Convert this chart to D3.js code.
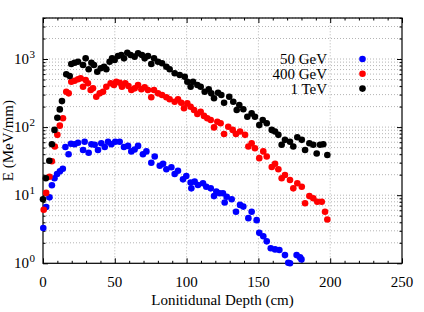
<!DOCTYPE html>
<html>
<head>
<meta charset="utf-8">
<script src="https://cdn.jsdelivr.net/npm/d3@7"></script>
<style>
  body { margin: 0; background: #fff; }
  text { font-family: "Liberation Serif", "Times New Roman", serif; fill: #000; }
</style>
</head>
<body>
<div id="chart"></div>
<script>
// series names and colours, in legend order
const seriesNames = ['50 GeV', '400 GeV', '1 TeV'];
const seriesColors = ['#0000ff', '#ff0000', '#000000'];

// 50 GeV
const depth50 = [0.2, 2.2, 4.5, 6.2, 8, 9.8, 11.8, 13.8, 15.6, 17.8, 19.5, 22, 24.4, 27.9, 29, 31.8, 33.7, 36, 38.3, 40.6,
  43, 45.3, 47.6, 50.3, 53.4, 56.4, 59.2, 61.5, 63.8, 66.2, 69.6, 72, 75.4, 77.8, 81.3, 83.6, 85.9, 89.4, 91.7, 94,
  97.5, 99.8, 102.8, 103.3, 105.6, 107.9, 111.4, 113.7, 116.8, 119.1, 120.7, 123, 125.3, 126.5, 127.9, 131.4, 134.4, 137.2, 139.5, 143,
  145.3, 148.8, 150.6, 153.4, 155.8, 158.6, 161.6, 164.6, 168.5, 170.8, 172, 176.6, 179, 180];
const energy50 = [3.3, 6.7, 9.3, 14, 17.7, 20.5, 22.5, 24.5, 51, 40, 57, 56, 59, 46, 61, 42, 56, 55, 46, 58,
  51, 61, 56, 61, 61, 51, 53, 44, 47, 53, 40, 44, 30, 37, 27, 29, 24, 25.7, 20.5, 22.9,
  17.1, 19.1, 15.3, 12.6, 15.8, 14.1, 15, 13.3, 12.6, 9.7, 11.3, 10.7, 10.7, 7.8, 9.5, 8.7, 5.7, 7.2, 6.8, 4.6,
  5.7, 4.3, 2.8, 2.5, 2.1, 1.66, 1.6, 1.57, 1.32, 1.02, 1.0, 1.32, 1.22, 1.14];

// 400 GeV
const depth400 = [0.5, 2.2, 4.5, 6.2, 8.2, 10, 11.7, 13.9, 16.2, 17.9, 19.7, 22, 24.4, 26.2, 27.9, 29.7, 31.3, 33.2, 34.8, 37.1,
  39.5, 41.8, 44.1, 47.1, 49.4, 51, 53.4, 55, 57.3, 59.5, 61.5, 63.9, 66.2, 68.5, 70.8, 73.1, 75.4, 77.3, 80.1, 82.9,
  85.9, 88.2, 91.7, 94, 96.3, 98.2, 100.5, 102.8, 105.2, 107.5, 109.8, 112.1, 114.4, 116.8, 119.1, 121.4, 123.7, 126.1, 129, 132.1,
  134.4, 137.2, 140.7, 143, 145.3, 147.6, 150.6, 153.4, 155.8, 159.3, 161.6, 163.9, 166.2, 168.5, 172, 174.3, 177.1, 180.2, 182.5, 185.5,
  188.2, 191, 194.1, 196.4, 198];
const energy400 = [6.1, 10.8, 18.7, 31.5, 52, 77, 105, 135, 331, 313, 464, 480, 504, 521, 392, 492, 440, 351, 371, 279,
  313, 331, 392, 440, 415, 464, 449, 392, 440, 400, 351, 371, 415, 359, 384, 351, 274, 351, 313, 296,
  274, 256, 236, 256, 228, 189, 223, 199, 178, 156, 168, 146, 135, 127, 99, 120, 114, 79, 101, 91,
  79, 86, 77, 52, 58, 49, 35, 44, 37, 26, 29, 24, 17.7, 19.8, 16.7, 12.6, 15, 13.3, 7.6, 9.7,
  9, 8, 8, 5.7, 4.4];

// 1 TeV
const depth1000 = [0, 2, 4.4, 6.2, 8, 10, 11.7, 13.2, 16.2, 18.6, 19.7, 22, 24.4, 27.9, 29.7, 31.8, 33.7, 35.5, 37.8, 40.2,
  42.5, 44.1, 46.4, 48.1, 49.9, 52.2, 54.5, 56.4, 58.7, 61, 63.8, 66.2, 68.9, 70.8, 73.1, 75.4, 77.3, 80.1, 82.9, 85.9,
  88.2, 91.7, 95.2, 98.7, 100.5, 102.8, 104.5, 107.5, 109.8, 112.6, 115.4, 117.2, 119.1, 121.9, 124.2, 126.1, 129.7, 132.5, 134.9, 136.7,
  139.5, 142.3, 145.3, 147.6, 150.6, 153, 155.8, 159.3, 161.6, 163.9, 166.2, 168.5, 172, 174.3, 177.1, 180.2, 182.5, 185.5, 188.2, 190.6,
  192.9, 195.2, 198];
const energy1000 = [8.7, 17.7, 32, 56, 91, 137, 182, 241, 596, 563, 845, 883, 911, 816, 1023, 706, 883, 816, 651, 730,
  771, 706, 912, 1023, 966, 1107, 1146, 1023, 1238, 1146, 1082, 1213, 1146, 1023, 1107, 845, 1023, 912, 865, 771,
  706, 617, 582, 550, 464, 392, 464, 415, 392, 331, 359, 313, 265, 320, 296, 228, 279, 236, 178, 211,
  183, 142, 159, 142, 107, 127, 114, 91, 86, 77, 55, 65, 61, 52, 71, 65, 46, 58, 55, 41,
  55, 56, 39];

// axis ticks
const xMajorTicks = [0, 50, 100, 150, 200, 250];
const yMajorTicks = [1, 10, 100, 1000];
const yExponents = ['0', '1', '2', '3'];

function chart(divId) {
  const width = 424;
  const height = 312;
  const margin = {top: 18, right: 22, bottom: 48.7, left: 43};
  const pointRadius = 3.3;
  const fontSize = 15;

  const svg = d3.select(divId).append('svg')
    .attr('width', width)
    .attr('height', height);

  const xScale = d3.scaleLinear().domain([0, 250]).range([margin.left, width - margin.right]);
  const yScale = d3.scaleLog().domain([1, 4000]).range([height - margin.bottom, margin.top]);

  const [x0, x1] = xScale.range();
  const [y0, y1] = yScale.range();

  // minor values, 2..9 per decade plus the top part
  const yMinor = [];
  for (let p = 0; p < 4; p++) {
    for (let k = 2; k < 10; k++) {
      const v = k * Math.pow(10, p);
      if (v <= 4000) yMinor.push(v);
    }
  }
  const xMinor = d3.range(0, 251, 10).filter((d) => d % 50 !== 0);

  // dotted grid
  const grid = svg.append('g')
    .attr('stroke', '#b4b4b4')
    .attr('stroke-width', 1)
    .attr('stroke-dasharray', '1,2');
  grid.selectAll('line.gx')
    .data(xMajorTicks.filter((d) => d > 0 && d < 250))
    .join('line')
    .attr('x1', (d) => xScale(d)).attr('x2', (d) => xScale(d))
    .attr('y1', y0).attr('y2', y1);
  grid.selectAll('line.gy')
    .data(yMajorTicks.filter((d) => d > 1).concat(yMinor))
    .join('line')
    .attr('x1', x0).attr('x2', x1)
    .attr('y1', (d) => yScale(d)).attr('y2', (d) => yScale(d));

  // axes, ticks pointing inwards
  const addAxis = (axis, tx, ty) => {
    const g = svg.append('g').attr('transform', `translate(${tx},${ty})`).call(axis);
    g.select('.domain').remove();
    g.selectAll('line').attr('stroke', '#000');
    return g;
  };
  const blank = () => '';

  addAxis(d3.axisBottom(xScale).tickValues(xMajorTicks).tickSize(-5).tickFormat(blank), 0, y0);
  addAxis(d3.axisBottom(xScale).tickValues(xMinor).tickSize(-2.5).tickFormat(blank), 0, y0);
  addAxis(d3.axisTop(xScale).tickValues(xMajorTicks).tickSize(-5).tickFormat(blank), 0, y1);
  addAxis(d3.axisTop(xScale).tickValues(xMinor).tickSize(-2.5).tickFormat(blank), 0, y1);
  addAxis(d3.axisLeft(yScale).tickValues(yMajorTicks).tickSize(-5).tickFormat(blank), x0, 0);
  addAxis(d3.axisLeft(yScale).tickValues(yMinor).tickSize(-2.5).tickFormat(blank), x0, 0);
  addAxis(d3.axisRight(yScale).tickValues(yMajorTicks).tickSize(-5).tickFormat(blank), x1, 0);
  addAxis(d3.axisRight(yScale).tickValues(yMinor).tickSize(-2.5).tickFormat(blank), x1, 0);

  // x tick labels
  svg.append('g').selectAll('text')
    .data(xMajorTicks)
    .join('text')
    .attr('x', (d) => xScale(d))
    .attr('y', y0 + 24)
    .attr('text-anchor', 'middle')
    .attr('font-size', fontSize)
    .text((d) => d);

  // y tick labels with superscript exponent
  svg.append('g').selectAll('text')
    .data(yMajorTicks)
    .join('text')
    .attr('x', x0 - 14)
    .attr('y', (d) => yScale(d) + 5)
    .attr('text-anchor', 'end')
    .attr('font-size', fontSize)
    .text('10');
  svg.append('g').selectAll('text')
    .data(yMajorTicks)
    .join('text')
    .attr('x', x0 - 13.5)
    .attr('y', (d) => yScale(d) - 1.5)
    .attr('font-size', 11)
    .text((d, i) => yExponents[i]);

  // frame
  svg.append('rect')
    .attr('x', x0).attr('y', y1)
    .attr('width', x1 - x0).attr('height', y0 - y1)
    .attr('fill', 'none')
    .attr('stroke', '#000')
    .attr('stroke-width', 1.2);

  // axis titles
  svg.append('text')
    .attr('x', (x0 + x1) / 2)
    .attr('y', 305)
    .attr('text-anchor', 'middle')
    .attr('font-size', fontSize)
    .text('Lonitidunal Depth (cm)');
  svg.append('text')
    .attr('transform', `translate(13,${(y0 + y1) / 2}) rotate(-90)`)
    .attr('text-anchor', 'middle')
    .attr('font-size', fontSize)
    .text('E (MeV/mm)');

  // points, blue first so black ends up on top
  const allSeries = [
    d3.zip(depth50, energy50),
    d3.zip(depth400, energy400),
    d3.zip(depth1000, energy1000),
  ];
  allSeries.forEach((pts, i) => {
    svg.append('g').attr('fill', seriesColors[i])
      .selectAll('circle')
      .data(pts)
      .join('circle')
      .attr('cx', (d) => xScale(d[0]))
      .attr('cy', (d) => yScale(d[1]))
      .attr('r', pointRadius);
  });

  // legend
  const legend = svg.append('g');
  seriesNames.forEach((name, i) => {
    const ly = 59 + i * 14.8;
    legend.append('text')
      .attr('x', 327)
      .attr('y', ly + 5)
      .attr('text-anchor', 'end')
      .attr('font-size', fontSize)
      .text(name);
    legend.append('circle')
      .attr('cx', 362.5)
      .attr('cy', ly)
      .attr('r', pointRadius)
      .attr('fill', seriesColors[i]);
  });
}

chart('#chart');
</script>
</body>
</html>
